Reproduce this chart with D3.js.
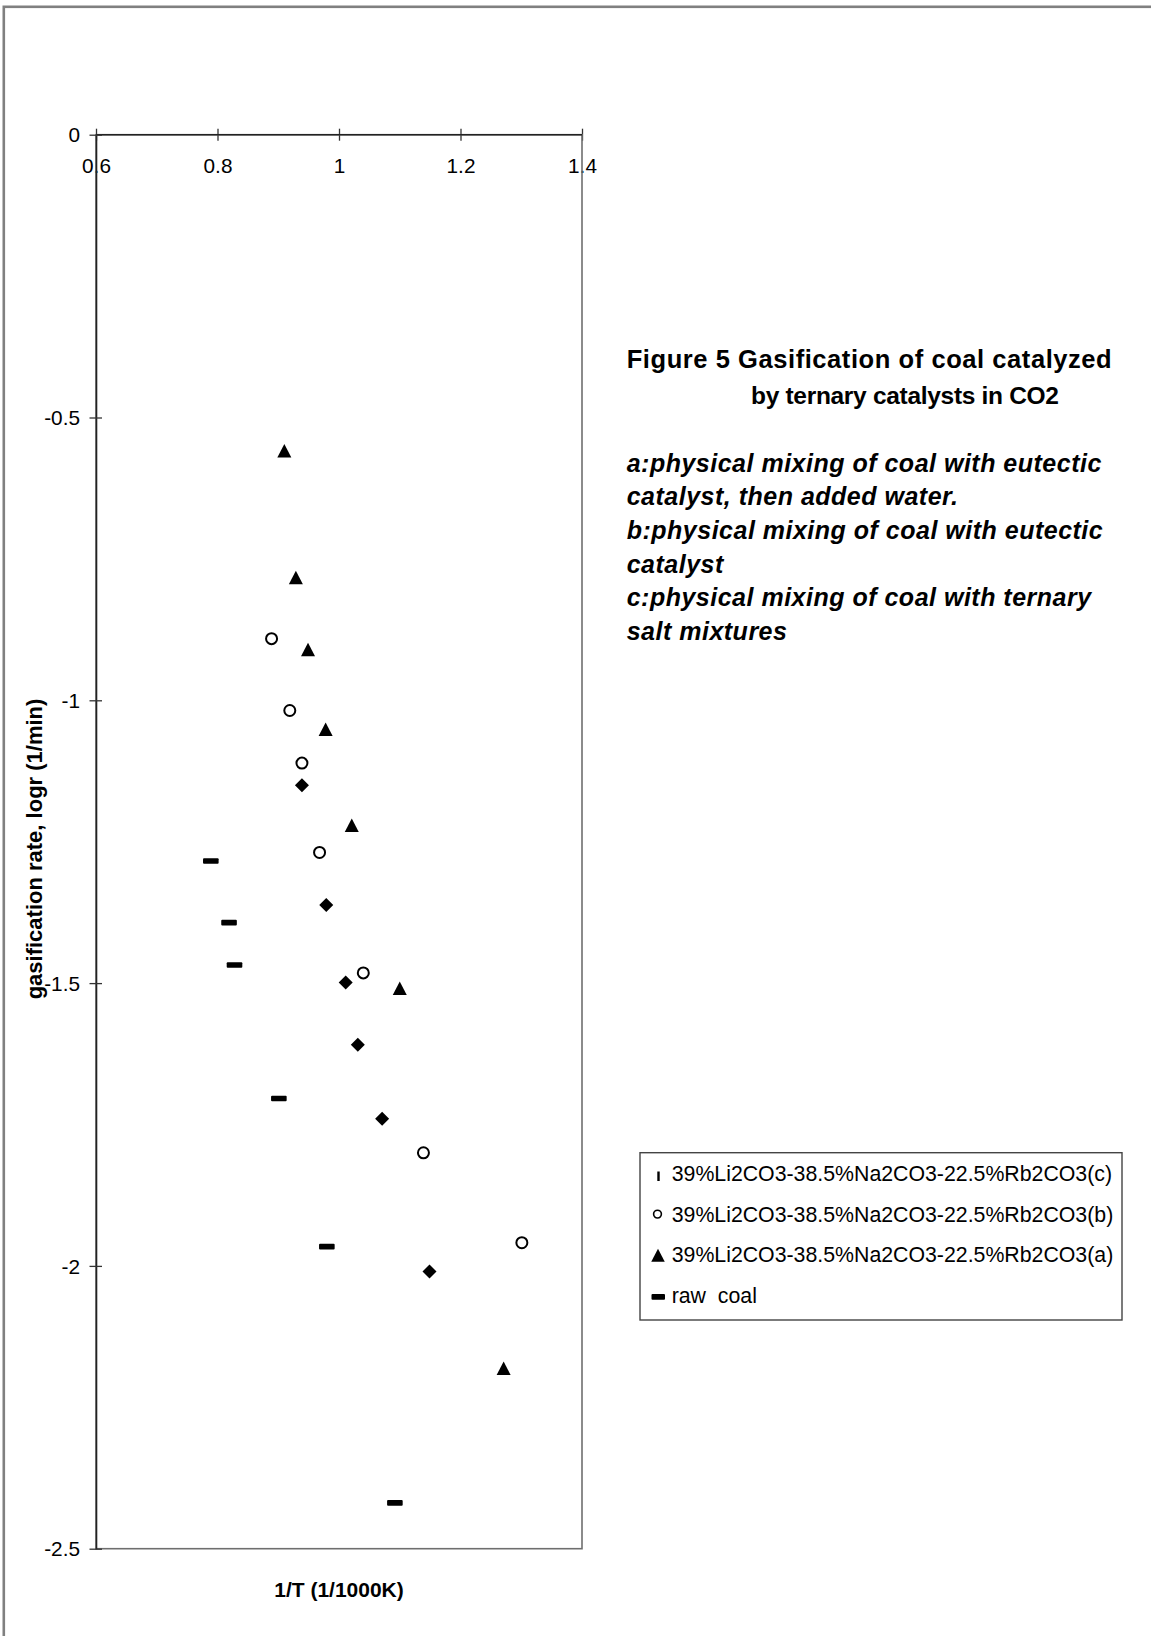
<!DOCTYPE html>
<html>
<head>
<meta charset="utf-8">
<script src="https://cdn.jsdelivr.net/npm/d3@7"></script>
<style>
  html, body { margin: 0; padding: 0; background: #fff; }
  svg { display: block; font-family: "Liberation Sans", Arial, sans-serif; }
</style>
</head>
<body>
<script>
// ---------------- DATA ----------------
const xTicks = [0.6, 0.8, 1.0, 1.2, 1.4];
const xTickLabels = ["0.6", "0.8", "1", "1.2", "1.4"];
const yTicks = [0, -0.5, -1, -1.5, -2, -2.5];
const yTickLabels = ["0", "-0.5", "-1", "-1.5", "-2", "-2.5"];

// (a) triangles
const seriesA_x = [0.910, 0.929, 0.949, 0.978, 1.021, 1.100, 1.271];
const seriesA_y = [-0.559, -0.783, -0.910, -1.051, -1.221, -1.509, -2.181];
// (b) open circles
const seriesB_x = [0.889, 0.919, 0.939, 0.968, 1.040, 1.139, 1.301];
const seriesB_y = [-0.891, -1.018, -1.111, -1.269, -1.482, -1.800, -1.959];
// (c) diamonds
const seriesC_x = [0.939, 0.979, 1.011, 1.031, 1.071, 1.149];
const seriesC_y = [-1.150, -1.362, -1.499, -1.609, -1.740, -2.010];
// raw coal dashes
const rawCoal_x = [0.789, 0.819, 0.828, 0.901, 0.980, 1.092];
const rawCoal_y = [-1.284, -1.393, -1.468, -1.704, -1.966, -2.419];

const legendLabels = [
  "39%Li2CO3-38.5%Na2CO3-22.5%Rb2CO3(c)",
  "39%Li2CO3-38.5%Na2CO3-22.5%Rb2CO3(b)",
  "39%Li2CO3-38.5%Na2CO3-22.5%Rb2CO3(a)",
  "raw  coal"
];
const titleLines = ["Figure 5 Gasification of coal catalyzed", "by ternary catalysts in CO2"];
const noteLines = [
  "a:physical mixing of coal with eutectic",
  "catalyst, then added water.",
  "b:physical mixing of coal with eutectic",
  "catalyst",
  "c:physical mixing of coal with ternary",
  "salt mixtures"
];
const xAxisTitle = "1/T (1/1000K)";
const yAxisTitle = "gasification rate, logr (1/min)";

// ---------------- LAYOUT ----------------
const W = 1151, H = 1636;
const plot = { left: 96, right: 582, top: 134.7, bottom: 1548.7 };

const svg = d3.select("body").append("svg").attr("width", W).attr("height", H);

// outer frame (only left & top visible)
svg.append("rect").attr("x", 3.8).attr("y", 6.8).attr("width", 1300).attr("height", 1800)
  .attr("fill", "none").attr("stroke", "#808080").attr("stroke-width", 2.6);

const x = d3.scaleLinear().domain([0.6, 1.4]).range([plot.left, plot.right]);
const y = d3.scaleLinear().domain([0, -2.5]).range([plot.top, plot.bottom]);

// x axis (at y = 0, top)
const gx = svg.append("g").attr("transform", `translate(0,${y(0)})`)
  .call(d3.axisBottom(x).tickValues(xTicks).tickFormat((d, i) => xTickLabels[i]).tickSizeOuter(0));
gx.select(".domain").remove();
gx.selectAll(".tick line").attr("y1", -6).attr("y2", 6).attr("stroke", "#333").attr("stroke-width", 1.3);
gx.selectAll(".tick text").attr("y", 38.3).attr("dy", 0)
  .attr("font-size", 20.8).attr("fill", "#000")
  .attr("font-family", "Liberation Sans, Arial, sans-serif");

// plot area border (gray)
svg.append("rect").attr("x", plot.left).attr("y", plot.top)
  .attr("width", plot.right - plot.left).attr("height", plot.bottom - plot.top)
  .attr("fill", "none").attr("stroke", "#6e6e6e").attr("stroke-width", 1.6);

// x axis line
svg.append("line").attr("x1", plot.left).attr("x2", plot.right)
  .attr("y1", y(0)).attr("y2", y(0)).attr("stroke", "#222").attr("stroke-width", 1.6);

// y axis
const gy = svg.append("g").attr("transform", `translate(${x(0.6)},0)`)
  .call(d3.axisLeft(y).tickValues(yTicks).tickFormat((d, i) => yTickLabels[i]).tickSizeOuter(0));
gy.select(".domain").attr("stroke", "#222").attr("stroke-width", 1.6);
gy.selectAll(".tick line").attr("x1", -6.5).attr("x2", 6).attr("stroke", "#333").attr("stroke-width", 1.3);
gy.selectAll(".tick text").attr("x", -16).attr("dy", "0.35em")
  .attr("font-size", 20.8).attr("fill", "#000")
  .attr("font-family", "Liberation Sans, Arial, sans-serif");

// ---------------- MARKERS ----------------
function trianglePath(w, h) {
  return `M0,${-h / 2}L${w / 2},${h / 2}L${-w / 2},${h / 2}Z`;
}
function diamondPath(w, h) {
  return `M0,${-h / 2}L${w / 2},0L0,${h / 2}L${-w / 2},0Z`;
}

const ptsA = seriesA_x.map((v, i) => [v, seriesA_y[i]]);
const ptsB = seriesB_x.map((v, i) => [v, seriesB_y[i]]);
const ptsC = seriesC_x.map((v, i) => [v, seriesC_y[i]]);
const ptsR = rawCoal_x.map((v, i) => [v, rawCoal_y[i]]);

const marks = svg.append("g");

marks.selectAll("path.tri").data(ptsA).join("path").attr("class", "tri")
  .attr("d", trianglePath(14, 13.5))
  .attr("transform", d => `translate(${x(d[0])},${y(d[1])})`)
  .attr("fill", "#000");

marks.selectAll("circle.circ").data(ptsB).join("circle").attr("class", "circ")
  .attr("cx", d => x(d[0])).attr("cy", d => y(d[1])).attr("r", 5.5)
  .attr("fill", "#fff").attr("stroke", "#000").attr("stroke-width", 2);

marks.selectAll("path.dia").data(ptsC).join("path").attr("class", "dia")
  .attr("d", diamondPath(14, 14))
  .attr("transform", d => `translate(${x(d[0])},${y(d[1])})`)
  .attr("fill", "#000");

marks.selectAll("rect.dash").data(ptsR).join("rect").attr("class", "dash")
  .attr("x", d => x(d[0]) - 7.8).attr("y", d => y(d[1]) - 2.8)
  .attr("width", 15.6).attr("height", 5.6).attr("rx", 1)
  .attr("fill", "#000");

// ---------------- AXIS TITLES ----------------
svg.append("text").attr("x", (plot.left + plot.right) / 2).attr("y", 1597)
  .attr("text-anchor", "middle").attr("font-weight", "bold").attr("font-size", 21)
  .text(xAxisTitle);

svg.append("text").attr("transform", "translate(42,849) rotate(-90)")
  .attr("text-anchor", "middle").attr("font-weight", "bold").attr("font-size", 22)
  .text(yAxisTitle);

// ---------------- ANNOTATION ----------------
const tStart = [626.7, 751];
const tBase = [368.3, 403.5];
const tLen = [485, 308];
const tSize = [25.5, 24.5];
titleLines.forEach((t, i) => {
  svg.append("text").attr("x", tStart[i]).attr("y", tBase[i])
    .attr("font-weight", "bold").attr("font-size", tSize[i])
    .attr("textLength", tLen[i]).attr("lengthAdjust", "spacing")
    .text(t);
});
noteLines.forEach((t, i) => {
  svg.append("text").attr("x", 626.7).attr("y", 471.7 + i * 33.66)
    .attr("font-weight", "bold").attr("font-style", "italic")
    .attr("font-size", 25).attr("letter-spacing", 0.5)
    .text(t);
});

// ---------------- LEGEND ----------------
const lg = svg.append("g");
lg.append("rect").attr("x", 640).attr("y", 1152.7).attr("width", 482).attr("height", 167.3)
  .attr("fill", "#fff").attr("stroke", "#444").attr("stroke-width", 1.4);

const legBase = [1181, 1221.6, 1262.2, 1302.6];
legendLabels.forEach((t, i) => {
  lg.append("text").attr("x", 671.7).attr("y", legBase[i])
    .attr("font-size", 21.3).style("white-space", "pre").text(t);
});
// (c) legend symbol: small vertical bar
lg.append("rect").attr("x", 657.3).attr("y", legBase[0] - 9.5).attr("width", 2.4).attr("height", 9.5)
  .attr("fill", "#000");
// (b) small open circle
lg.append("circle").attr("cx", 657.5).attr("cy", legBase[1] - 7.5).attr("r", 3.9)
  .attr("fill", "#fff").attr("stroke", "#000").attr("stroke-width", 1.6);
// (a) triangle
lg.append("path").attr("d", trianglePath(13.5, 13))
  .attr("transform", `translate(658,${legBase[2] - 7})`).attr("fill", "#000");
// raw coal dash
lg.append("rect").attr("x", 651.5).attr("y", legBase[3] - 8.5).attr("width", 13.5).attr("height", 5.6)
  .attr("rx", 1).attr("fill", "#000");
</script>
</body>
</html>
